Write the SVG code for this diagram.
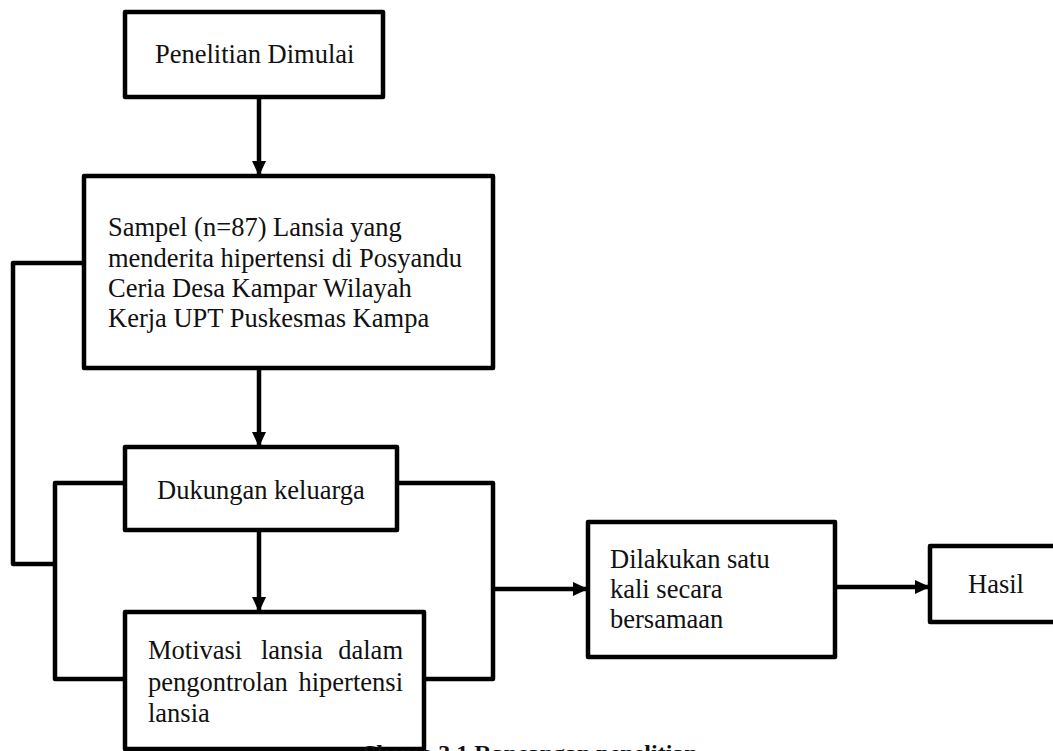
<svg xmlns="http://www.w3.org/2000/svg" width="1053" height="751" viewBox="0 0 1053 751">
<defs>
<marker id="ah" markerUnits="userSpaceOnUse" markerWidth="16" markerHeight="14" refX="15" refY="7" orient="auto">
<path d="M0,0 L15,7 L0,14 Z" fill="#000"/>
</marker>
</defs>
<style>
.box{fill:#fff;stroke:#000;stroke-width:4.5;stroke-linejoin:round}
.ln{fill:none;stroke:#000;stroke-width:4.5;stroke-linejoin:round}
.t{font-family:"Liberation Serif","Times New Roman",serif;font-size:26.5px;fill:#111}
.cap{font-family:"Liberation Serif","Times New Roman",serif;font-size:24px;font-weight:bold;fill:#111}
</style>
<rect width="1053" height="751" fill="#fff"/>
<g id="connectors">
<line class="ln" x1="259" y1="97" x2="259" y2="176" marker-end="url(#ah)"/>
<line class="ln" x1="259" y1="368" x2="259" y2="447" marker-end="url(#ah)"/>
<line class="ln" x1="259" y1="530" x2="259" y2="612" marker-end="url(#ah)"/>
<polyline class="ln" points="84,263 13,263 13,564 55,564"/>
<polyline class="ln" points="125,483 55,483 55,679 125,679"/>
<polyline class="ln" points="397,483 493,483 493,679 424,679"/>
<line class="ln" x1="493" y1="589" x2="588" y2="589" marker-end="url(#ah)"/>
<line class="ln" x1="835" y1="587" x2="930" y2="587" marker-end="url(#ah)"/>
</g>
<g id="n1">
<rect class="box" x="125" y="12" width="258" height="85"/>
<text class="t" x="155" y="63">Penelitian Dimulai</text>
</g>
<g id="n2">
<rect class="box" x="84" y="176" width="409" height="192"/>
<text class="t" x="108" y="236">Sampel (n=87) Lansia yang</text>
<text class="t" x="108" y="267">menderita hipertensi di Posyandu</text>
<text class="t" x="108" y="297">Ceria Desa Kampar Wilayah</text>
<text class="t" x="108" y="327">Kerja UPT Puskesmas Kampa</text>
</g>
<g id="n3">
<rect class="box" x="125" y="447" width="272" height="83"/>
<text class="t" x="157" y="499">Dukungan keluarga</text>
</g>
<g id="n4">
<rect class="box" x="125" y="612" width="299" height="137"/>
<text class="t" x="148" y="659">Motivasi</text>
<text class="t" x="261" y="659">lansia</text>
<text class="t" x="403" y="659" text-anchor="end">dalam</text>
<text class="t" x="148" y="691">pengontrolan</text>
<text class="t" x="403" y="691" text-anchor="end">hipertensi</text>
<text class="t" x="148" y="722">lansia</text>
</g>
<g id="n5">
<rect class="box" x="588" y="522" width="247" height="135"/>
<text class="t" x="610" y="568">Dilakukan satu</text>
<text class="t" x="610" y="598">kali secara</text>
<text class="t" x="610" y="628">bersamaan</text>
</g>
<g id="n6">
<rect class="box" x="930" y="546" width="140" height="76"/>
<text class="t" x="968" y="593">Hasil</text>
</g>
<text class="cap" x="363" y="761">Skema 3.1 Rancangan penelitian</text>
</svg>
